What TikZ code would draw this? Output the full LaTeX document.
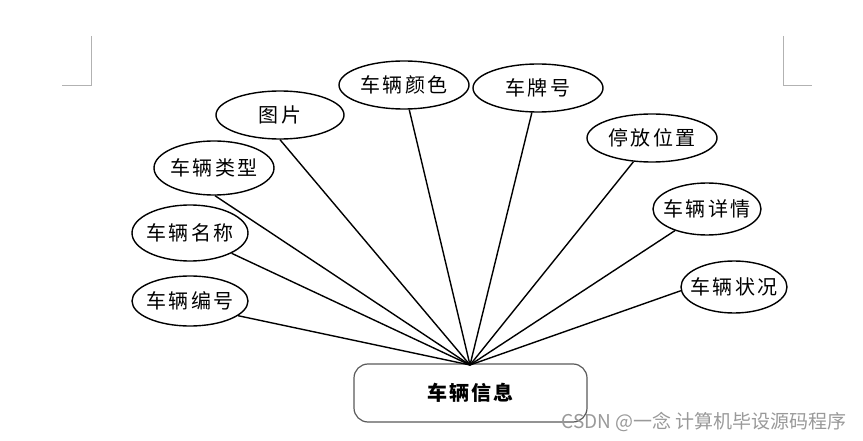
\documentclass[tikz,border=0pt]{standalone}
\usepackage{fontspec}
\setmainfont{Liberation Serif}
\newfontfamily\cjk{Noto Sans CJK SC}
\newfontfamily\cjksp[LetterSpace=12]{Noto Sans CJK SC}
\newfontfamily\cjkbold[LetterSpace=10]{Noto Sans CJK SC}
\usetikzlibrary{shapes.geometric}
\begin{document}
\begin{tikzpicture}[x=1pt,y=-1pt,
  attr/.style={ellipse,draw=black,line width=1.4pt,inner xsep=-25pt,inner ysep=-10pt,font=\cjksp\fontsize{20}{22}\selectfont},
  link/.style={line width=1.4pt,black},
  cornermark/.style={draw=gray!60,line width=0.8pt}]
\useasboundingbox (0,0) rectangle (863,441);
% page corner marks
\coordinate (l1) at (91,36); \coordinate (l2) at (91,85); \coordinate (l3) at (62,85);
\coordinate (r1) at (783,36); \coordinate (r2) at (783,85); \coordinate (r3) at (812,85);
\draw[cornermark] (l1) -- (l2) -- (l3);
\draw[cornermark] (r1) -- (r2) -- (r3);
% entity
\node[draw=black!65,line width=1.2pt,rounded corners=14pt,minimum width=233pt,minimum height=58pt,inner sep=0pt,font=\cjkbold\bfseries\fontsize{20}{22}\selectfont] (main) at (470.5,393) {车辆信息};
\coordinate (hub) at (470,365);
% attributes
\node[attr,minimum width=116pt,minimum height=50pt] (bh) at (190,301) {车辆编号};
\node[attr,minimum width=116pt,minimum height=56pt] (mc) at (190,233) {车辆名称};
\node[attr,minimum width=120pt,minimum height=54pt] (lx) at (214,168) {车辆类型};
\node[attr,minimum width=128pt,minimum height=48pt] (tp) at (280,115) {图片};
\node[attr,minimum width=130pt,minimum height=48pt] (ys) at (404,85) {车辆颜色};
\node[attr,minimum width=130pt,minimum height=48pt] (cp) at (538,88) {车牌号};
\node[attr,minimum width=130pt,minimum height=48pt] (wz) at (652,138) {停放位置};
\node[attr,minimum width=108pt,minimum height=52pt] (xq) at (707,209) {车辆详情};
\node[attr,minimum width=106pt,minimum height=52pt] (zk) at (734,287) {车辆状况};
% links
\draw[link] (bh.-17) -- (hub);
\draw[link] (mc.-26) -- (hub);
\draw[link] (lx.-88) -- (hub);
\draw[link] (tp.south) -- (hub);
\draw[link] (ys.-78) -- (hub);
\draw[link] (cp.-104) -- (hub);
\draw[link] (wz.-128) -- (hub);
\draw[link] (xq.-146) -- (hub);
\draw[link] (zk.184) -- (hub);
% watermark
\node[anchor=east,inner sep=0pt,text=black!40,font=\cjk\fontsize{19}{21}\selectfont] (wm) at (847,422) {CSDN @一念 计算机毕设源码程序};
\end{tikzpicture}
\end{document}
